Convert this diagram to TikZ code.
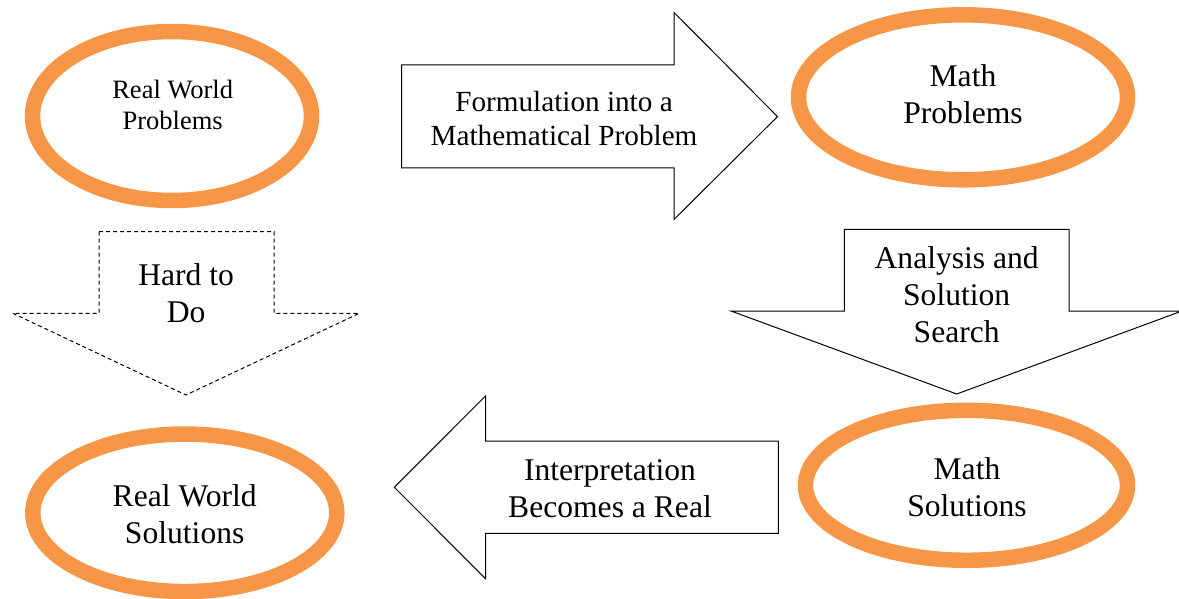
\documentclass[tikz,border=0pt]{standalone}
\usepackage{fontspec}
\setmainfont{Liberation Serif}
\usetikzlibrary{shapes.geometric}
\definecolor{ringorange}{HTML}{F79646}
\tikzset{
  ring/.style={ellipse, draw=ringorange, line width=15.5pt, inner sep=0pt},
  blockarrow/.style={draw=black, line width=1pt, line join=miter, fill=white},
  dasharrow/.style={blockarrow, dash pattern=on 4pt off 3pt},
  lbl/.style={align=center, inner sep=0pt, anchor=base},
  big/.style={font=\fontsize{31.6}{37}\selectfont},
  mid/.style={font=\fontsize{29.2}{34.7}\selectfont},
  small/.style={font=\fontsize{26.5}{30.3}\selectfont},
}
\begin{document}
\begin{tikzpicture}[x=1pt,y=-1pt]
\useasboundingbox (0,0) rectangle (1179,599);
% ellipses
\node[ring, minimum width=279pt, minimum height=169pt] (rwp) at (172,116) {};
\node[ring, minimum width=329pt, minimum height=165pt] (mp) at (963,97.3) {};
\node[ring, minimum width=322pt, minimum height=150pt] (ms) at (966.5,485.3) {};
\node[ring, minimum width=304pt, minimum height=157.5pt] (rws) at (184.8,512.8) {};
% block arrows
\draw[blockarrow] (401.7,65) -- (674,65) -- (674,12.5) -- (777.5,116.6) -- (674,219.5) -- (674,168) -- (401.7,168) -- cycle;
\draw[dasharrow] (99,231.7) -- (274,231.7) -- (274,313.3) -- (359.3,313.3) -- (186,395) -- (12.7,313.3) -- (99,313.3) -- cycle;
\draw[blockarrow] (844.3,229.3) -- (1069,229.3) -- (1069,311) -- (1182,311) -- (956.7,394) -- (731,311) -- (844.3,311) -- cycle;
\draw[blockarrow] (778.3,441) -- (485.5,441) -- (485.5,396) -- (394.3,487.3) -- (485.5,578.6) -- (485.5,533.3) -- (778.3,533.3) -- cycle;
% labels (base anchor = baseline of the last line)
\node[lbl, small] (trwp) at (172.7,129.3) {Real World\\Problems};
\node[lbl, big] (tmp) at (963,123.3) {Math\\Problems};
\node[lbl, mid] (tform) at (564,145.7) {Formulation into a\\Mathematical Problem};
\node[lbl, big] (thard) at (186.2,322.3) {Hard to\\Do};
\node[lbl, big] (tana) at (956.7,342.7) {Analysis and\\Solution\\Search};
\node[lbl, big] (tms) at (967,516) {Math\\Solutions};
\node[lbl, big] (tint) at (610,517.7) {Interpretation\\Becomes a Real};
\node[lbl, big] (trws) at (184.7,543.3) {Real World\\Solutions};
\end{tikzpicture}
\end{document}
